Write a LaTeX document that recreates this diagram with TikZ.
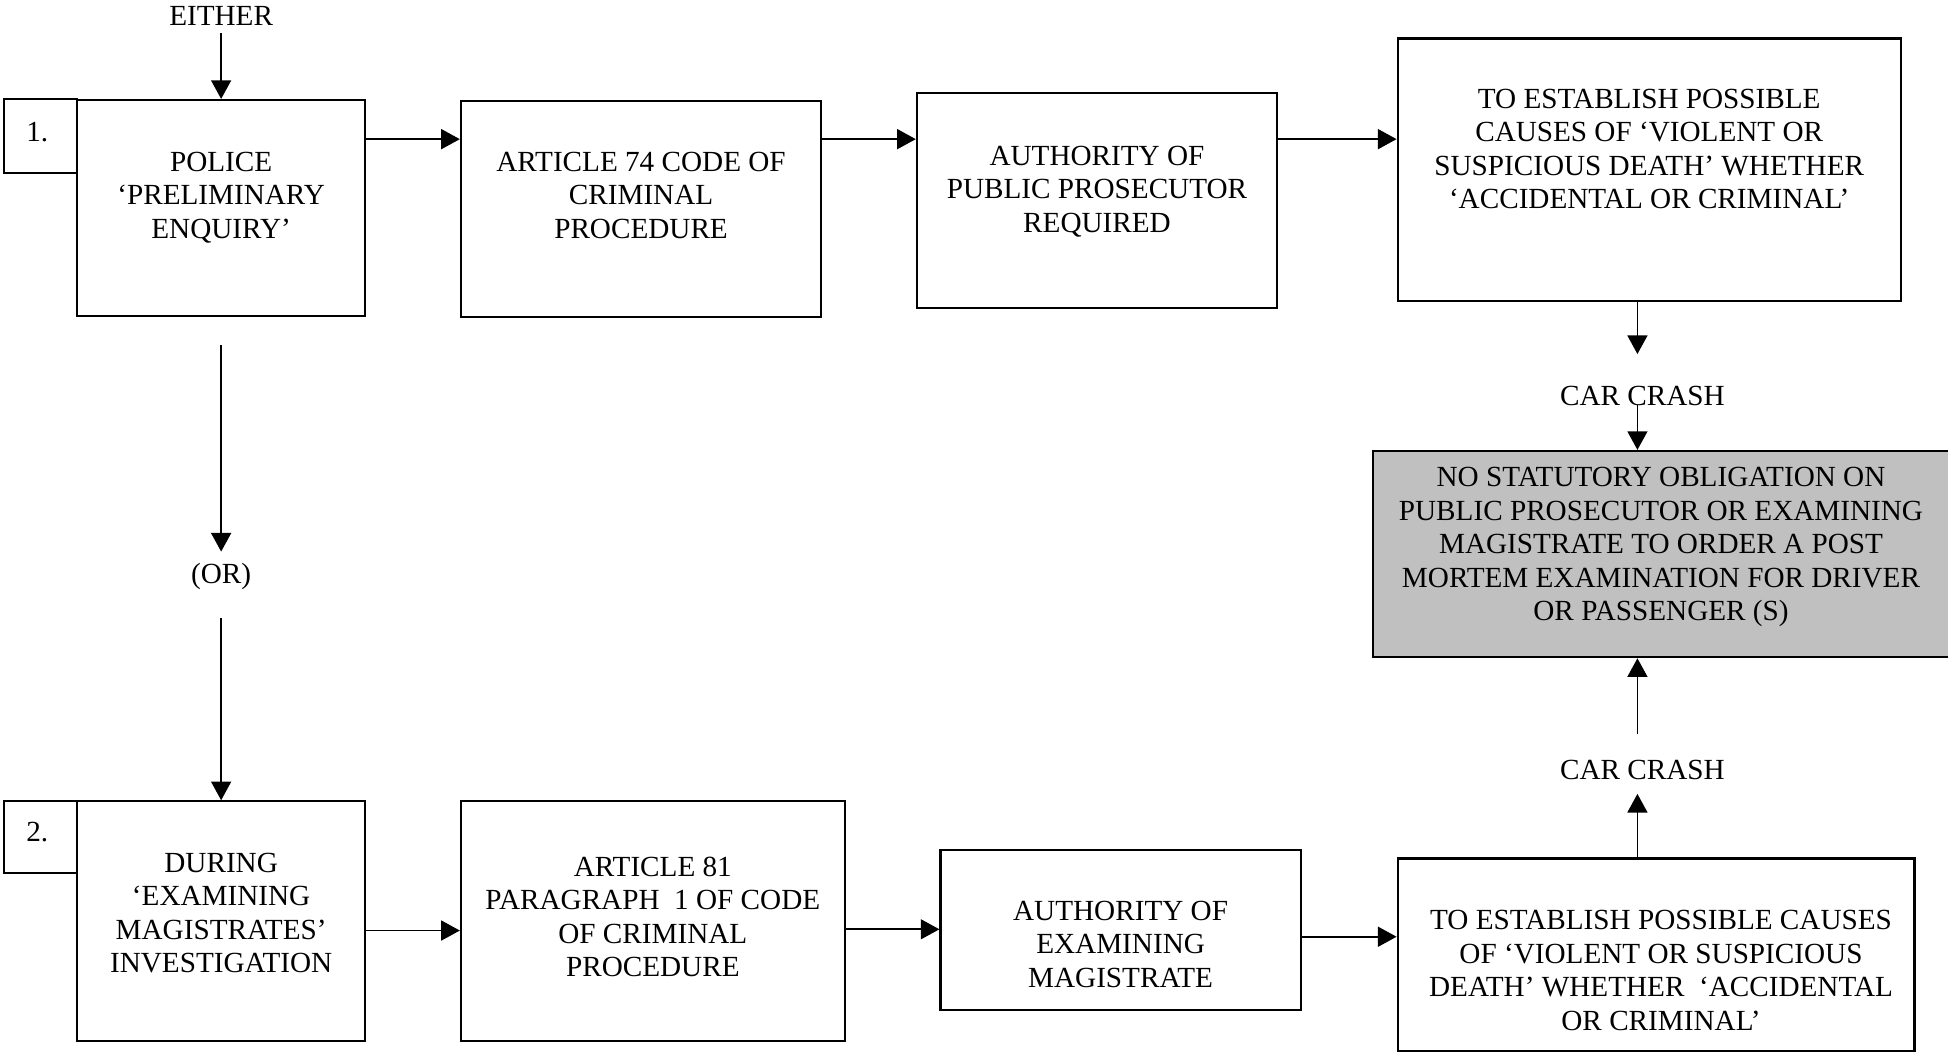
\documentclass[tikz,border=0pt]{standalone}
\usepackage{fontspec}
\setmainfont{Liberation Serif}
\usetikzlibrary{arrows.meta}
\definecolor{boxgray}{RGB}{192,192,192}
\begin{document}
\begin{tikzpicture}[x=1pt,y=-1pt,
  box/.style={draw, line width=1.7pt, inner sep=0pt},
  txt/.style={align=center, font=\fontsize{23.5pt}{27pt}\selectfont, inner sep=0pt},
  arr/.style={line width=1.5pt, -{Triangle[length=15pt,width=16pt]}}]
\useasboundingbox (0,0) rectangle (1568,846.8);

% boxes
\node[box, minimum width=58.5pt, minimum height=59pt] (n1) at (32.75,109.5) {};
\node[box, minimum width=232pt, minimum height=174pt] (police) at (178,167.5) {};
\node[box, minimum width=290pt, minimum height=174pt] (art74) at (516,168) {};
\node[box, minimum width=290pt, minimum height=173pt] (authpp) at (883,161.5) {};
\node[box, minimum width=405pt, minimum height=211pt] (esttop) at (1327.5,136.5) {};
\node[box, fill=boxgray, minimum width=466pt, minimum height=166pt] (gray) at (1338,446) {};
\node[box, minimum width=58.5pt, minimum height=58pt] (n2) at (32.75,674) {};
\node[box, minimum width=232pt, minimum height=193pt] (during) at (178,741.5) {};
\node[box, minimum width=309pt, minimum height=193pt] (art81) at (525.5,741.5) {};
\node[box, minimum width=290pt, minimum height=129pt] (authem) at (902,748.5) {};
\node[box, minimum width=416pt, minimum height=155pt] (estbot) at (1333,768.5) {};

% texts
\node[txt] (either) at (178,13) {EITHER};
\node[txt] (n1t) at (30,106) {1.};
\node[txt] (n2t) at (30,670) {2.};
\node[txt] (policet) at (178,159) {POLICE\\‘PRELIMINARY\\ENQUIRY’};
\node[txt] (art74t) at (516,157) {ARTICLE 74 CODE OF\\CRIMINAL\\PROCEDURE};
\node[txt] (authppt) at (883,154) {AUTHORITY OF\\PUBLIC PROSECUTOR\\REQUIRED};
\node[txt] (esttopt) at (1327.5,120) {TO ESTABLISH POSSIBLE\\CAUSES OF ‘VIOLENT OR\\SUSPICIOUS DEATH’ WHETHER\\‘ACCIDENTAL OR CRIMINAL’};
\node[txt] (crash1) at (1322,319) {CAR CRASH};
\node[txt] (grayt) at (1337,440.5) {NO STATUTORY OBLIGATION ON\\PUBLIC PROSECUTOR OR EXAMINING\\MAGISTRATE TO ORDER A POST\\MORTEM EXAMINATION FOR DRIVER\\OR PASSENGER (S)};
\node[txt] (crash2) at (1322,620) {CAR CRASH};
\node[txt] (ort) at (178,464) {(OR)};
\node[txt] (duringt) at (178,735) {DURING\\‘EXAMINING\\MAGISTRATES’\\INVESTIGATION};
\node[txt] (art81t) at (525.5,738) {ARTICLE 81\\PARAGRAPH~~1 OF CODE\\OF CRIMINAL\\PROCEDURE};
\node[txt] (authemt) at (902,760) {AUTHORITY OF\\EXAMINING\\MAGISTRATE};
\node[txt] (estbott) at (1337,781) {TO ESTABLISH POSSIBLE CAUSES\\OF ‘VIOLENT OR SUSPICIOUS\\DEATH’ WHETHER~ ‘ACCIDENTAL\\OR CRIMINAL’};

% helper coordinates
\coordinate (r1) at (0,112);
\coordinate (r2) at (0,749);
\coordinate (r3) at (0,748);
\coordinate (r4) at (0,754);
\coordinate (c) at (1318,0);
\coordinate (eithers) at (178,26.5);
\coordinate (cr1in) at (1318,285);
\coordinate (cr1out) at (1318,326);
\coordinate (cr2out) at (1318,591);
\coordinate (cr2in) at (1318,639);
\coordinate (p1) at (178,278);
\coordinate (p2) at (178,444);
\coordinate (p3) at (178,497.5);

% connectors
\draw[arr] (eithers) -- (police.north);
\draw[arr] (police.east |- r1) -- (art74.west |- r1);
\draw[arr] (art74.east |- r1) -- (authpp.west |- r1);
\draw[arr] (authpp.east |- r1) -- (esttop.west |- r1);
\draw[arr] (esttop.south -| c) -- (cr1in);
\draw[arr] (cr1out) -- (gray.north -| c);
\draw[arr] (cr2out) -- (gray.south -| c);
\draw[arr] (estbot.north -| c) -- (cr2in);
\draw[arr] (p1) -- (p2);
\draw[arr] (p3) -- (during.north);
\draw[arr] (during.east |- r2) -- (art81.west |- r2);
\draw[arr] (art81.east |- r3) -- (authem.west |- r3);
\draw[arr] (authem.east |- r4) -- (estbot.west |- r4);
\end{tikzpicture}
\end{document}
